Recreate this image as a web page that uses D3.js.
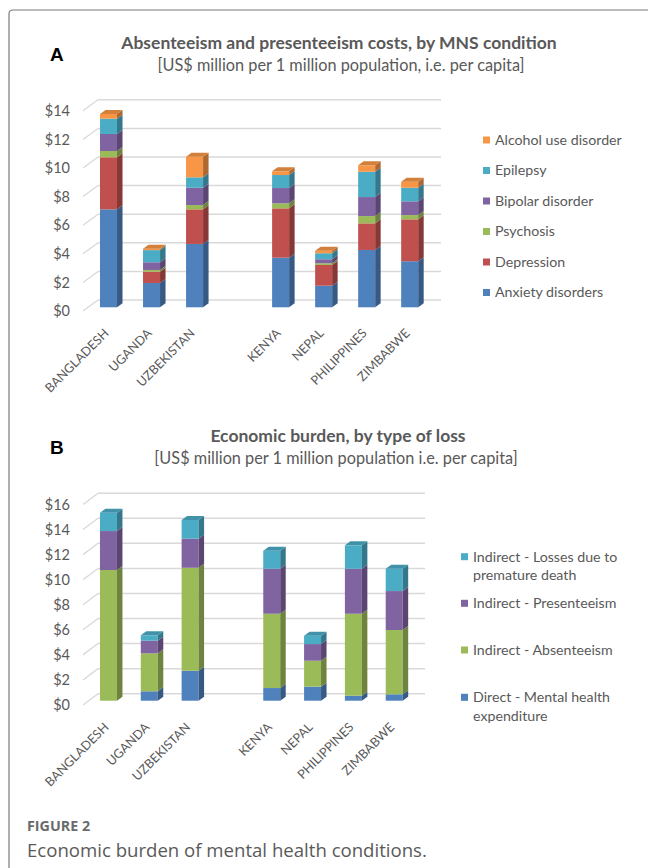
<!DOCTYPE html>
<html><head><meta charset="utf-8">
<script src="https://cdn.jsdelivr.net/npm/d3@7"></script>
<style>
html,body{margin:0;padding:0;background:#fff;}
svg{display:block;}
</style></head>
<body>
<svg id="chart" width="648" height="868"></svg>
<script>
// ---------- DATA ----------
const countries = ["BANGLADESH","UGANDA","UZBEKISTAN","KENYA","NEPAL","PHILIPPINES","ZIMBABWE"];

// Panel A: Absenteeism and presenteeism costs, by MNS condition
const seriesA = ["Anxiety disorders","Depression","Psychosis","Bipolar disorder","Epilepsy","Alcohol use disorder"];
const anxiety    = [6.85, 1.70, 4.43, 3.47, 1.51, 4.01, 3.22];
const depression = [3.64, 0.79, 2.42, 3.45, 1.45, 1.86, 2.93];
const psychosis  = [0.44, 0.12, 0.30, 0.35, 0.12, 0.51, 0.30];
const bipolar    = [1.19, 0.54, 1.21, 1.07, 0.28, 1.33, 0.96];
const epilepsy   = [1.07, 0.85, 0.73, 0.91, 0.42, 1.77, 0.95];
const alcohol    = [0.33, 0.10, 1.44, 0.26, 0.18, 0.45, 0.42];
const ticksA = [0, 2, 4, 6, 8, 10, 12, 14];

// Panel B: Economic burden, by type of loss
const seriesB = ["Direct - Mental health expenditure","Indirect - Absenteeism","Indirect - Presenteeism","Indirect - Losses due to premature death"];
const direct       = [0.00, 0.75, 2.39, 1.01, 1.12, 0.40, 0.51];
const absenteeism  = [10.43, 3.03, 8.22, 5.93, 2.07, 6.54, 5.13];
const presenteeism = [3.11, 1.01, 2.32, 3.59, 1.33, 3.59, 3.11];
const premature    = [1.46, 0.43, 1.49, 1.44, 0.67, 1.87, 1.78];
const ticksB = [0, 2, 4, 6, 8, 10, 12, 14, 16];

const legendLinesB = [["Direct - Mental health","expenditure"],["Indirect - Absenteeism"],["Indirect - Presenteeism"],["Indirect - Losses due to","premature death"]];

const colorsA = ["#4F81BD","#C0504D","#9BBB59","#8064A2","#4BACC6","#F79646"];
const colorsB = ["#4F81BD","#9BBB59","#8064A2","#4BACC6"];

// ---------- DRAW ----------
const svg = d3.select("#chart");
const FONT = "Lato, 'Open Sans', sans-serif";
const TXT = "#595959";

// figure border
svg.append("path")
  .attr("d","M9,868 V14 Q9,10 13,10 H648")
  .attr("fill","none").attr("stroke","#7a7a7a").attr("stroke-width",1.2);

function panel(cfg){
  const g = svg.append("g");
  const domain = [...countries.slice(0,3), "__gap", ...countries.slice(3)];
  const x = d3.scaleBand().domain(domain)
     .range([cfg.barLeft0 - 0.3*cfg.step, cfg.barLeft0 - 0.3*cfg.step + 8*cfg.step])
     .paddingInner(1 - cfg.barW/cfg.step).paddingOuter(0.3).align(0.5);
  // y on the front plane (labels)
  const y = d3.scaleLinear().domain([0, cfg.max]).range([cfg.y0, cfg.y0 - cfg.max*cfg.k]);

  // gridlines (back wall) and left-wall diagonals
  const grid = g.append("g");
  cfg.ticks.forEach(t=>{
    const yf = y(t), yb = y(t) + cfg.back.dy;
    grid.append("line").attr("x1",83).attr("y1",yf).attr("x2",83+cfg.back.dx).attr("y2",yb)
      .attr("stroke","#d9d9d9").attr("stroke-width",1.3);
    grid.append("line").attr("x1",83+cfg.back.dx).attr("y1",yb).attr("x2",cfg.gridEnd).attr("y2",yb)
      .attr("stroke","#d9d9d9").attr("stroke-width",1.5);
  });

  // y axis labels
  const ax = g.append("g").attr("transform","translate(72,0)")
    .call(d3.axisLeft(y).tickValues(cfg.ticks).tickFormat(d=>"$"+d).tickSize(0).tickPadding(2));
  ax.select(".domain").remove();
  ax.selectAll("text").attr("font-family",FONT).attr("font-size",14.5).attr("fill",TXT);

  // stacked 3D bars
  const dX = cfg.depth.dx, dY = cfg.depth.dy, w = x.bandwidth();
  const bars = g.append("g");
  countries.forEach((c,i)=>{
    const x0 = x(c);
    let acc = 0;
    const segs = [];
    cfg.values.forEach((arr,s)=>{
      const v = arr[i];
      if (v <= 0) return;
      segs.push({s, lo: acc, hi: acc + v});
      acc += v;
    });
    segs.forEach((seg, j)=>{
      const col = d3.color(cfg.colors[seg.s]);
      const yt = y(seg.hi) + cfg.barDy, yb = y(seg.lo) + cfg.barDy;
      bars.append("rect").attr("x",x0).attr("y",yt).attr("width",w).attr("height",Math.max(0,yb-yt))
        .attr("fill",col.formatHex());
      bars.append("path")
        .attr("d",`M${x0+w},${yb} L${x0+w},${yt} L${x0+w+dX},${yt+dY} L${x0+w+dX},${yb+dY} Z`)
        .attr("fill",col.darker(1.0).formatHex());
      if (j === segs.length-1){
        bars.append("path")
          .attr("d",`M${x0},${yt} L${x0+dX},${yt+dY} L${x0+w+dX},${yt+dY} L${x0+w},${yt} Z`)
          .attr("fill",col.darker(0.45).formatHex());
      }
    });
  });

  // x labels
  const xa = g.append("g").attr("transform",`translate(0,${cfg.y0 + 23})`)
    .call(d3.axisBottom(x).tickValues(countries).tickSize(0));
  xa.select(".domain").remove();
  xa.selectAll(".tick").attr("transform",d=>`translate(${x(d)+w/2+1},0)`);
  xa.selectAll("text").attr("y",0).attr("dy",0).attr("x",0)
    .attr("transform","rotate(-45)").attr("text-anchor","end")
    .attr("font-family",FONT).attr("font-size",12.6).attr("fill",TXT);

  // titles
  svg.append("text").attr("x",cfg.titleX).attr("y",cfg.titleY).attr("text-anchor","middle")
    .attr("font-family",FONT).attr("font-weight","bold").attr("font-size",17.5).attr("fill",TXT)
    .text(cfg.title);
  svg.append("text").attr("x",cfg.subX).attr("y",cfg.titleY+22).attr("text-anchor","middle")
    .attr("font-family",FONT).attr("font-size",16.3).attr("fill",TXT)
    .text(cfg.subtitle);
  svg.append("text").attr("x",50).attr("y",cfg.titleY+12).attr("font-family","'Liberation Sans', Arial, sans-serif")
    .attr("font-weight","bold").attr("font-size",19).attr("fill","#000").text(cfg.letter);

  // legend
  const lg = svg.append("g");
  cfg.legend.forEach((it)=>{
    lg.append("rect").attr("x",cfg.legX).attr("y",it.y-3.5).attr("width",7).attr("height",7).attr("fill",it.color);
    it.lines.forEach((ln,k)=>{
      lg.append("text").attr("x",cfg.legX+12).attr("y",it.y + k*18.5).attr("dy","0.35em")
        .attr("font-family",FONT).attr("font-size",14.2).attr("fill",TXT).text(ln);
    });
  });
}

// legend entries, order top-to-bottom = reverse of series
const legA = seriesA.map((s,i)=>({lines:[s], color: colorsA[i]})).reverse()
  .map((d,i)=>({...d, y: 140 + i*30.5}));
const legBpos = [556.7, 603.3, 650, 697.3];
const legB = legendLinesB.map((l,i)=>({lines:l, color: colorsB[i]})).reverse()
  .map((d,i)=>({...d, y: legBpos[i]}));

panel({
  values:[anxiety,depression,psychosis,bipolar,epilepsy,alcohol], colors: colorsA,
  max: 14, ticks: ticksA, y0: 311, k: 14.3, back:{dx:15, dy:-11}, barDy:-3.7,
  depth:{dx:5.5, dy:-4}, gridEnd: 441, barLeft0: 100, step: 43, barW: 17,
  title: "Absenteeism and presenteeism costs, by MNS condition",
  subtitle: "[US$ million per 1 million population, i.e. per capita]",
  titleX: 339, subX: 341, titleY: 49, letter: "A",
  legend: legA, legX: 483
});

panel({
  values:[direct,absenteeism,presenteeism,premature], colors: colorsB,
  max: 16, ticks: ticksB, y0: 705, k: 12.53, back:{dx:15, dy:-11.3}, barDy:-4.3,
  depth:{dx:5.5, dy:-4}, gridEnd: 425, barLeft0: 100, step: 40.9, barW: 17,
  title: "Economic burden, by type of loss",
  subtitle: "[US$ million per 1 million population i.e. per capita]",
  titleX: 338, subX: 336, titleY: 442, letter: "B",
  legend: legB, legX: 461
});

// caption
svg.append("text").attr("x",27).attr("y",831).attr("font-family","'Open Sans', sans-serif")
  .attr("font-weight","bold").attr("font-size",14.3).attr("fill","#6b6b6b").text("FIGURE 2");
svg.append("text").attr("x",27).attr("y",857).attr("font-family","'Open Sans', sans-serif")
  .attr("font-size",18.6).attr("fill","#5a5a5a").text("Economic burden of mental health conditions.");
</script>
</body></html>
